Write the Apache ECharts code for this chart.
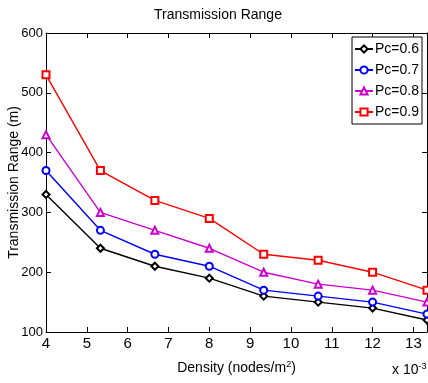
<!DOCTYPE html>
<html>
<head>
<meta charset="utf-8">
<script src="https://cdn.jsdelivr.net/npm/echarts@6/dist/echarts.min.js"></script>
<style>
  html, body { margin: 0; padding: 0; background: #fff; }
  #chart { width: 428px; height: 383px; }
</style>
</head>
<body>
<div id="chart"></div>
<script>
// density values (x 10^-3 nodes/m^2)
const density = [4, 5.333, 6.667, 8, 9.333, 10.667, 12, 13.333]
const pc06 = [330, 240, 210, 190, 160, 150, 140, 120]
const pc07 = [370, 270, 230, 210, 170, 160, 150, 130]
const pc08 = [430, 300, 270, 240, 200, 180, 170, 150]
const pc09 = [530, 370, 320, 290, 230, 220, 200, 170]
const seriesNames = ["Pc=0.6", "Pc=0.7", "Pc=0.8", "Pc=0.9"]

const font = "'Liberation Sans', Arial, sans-serif"
const chart = echarts.init(document.getElementById("chart"), null, { renderer: "canvas" })

const pairs = (ys) => density.map((x, i) => [x, ys[i]])

const makeSeries = (name, ys, color, symbol) => ({
  name,
  type: "line",
  data: pairs(ys),
  symbol,
  symbolSize: 7,
  showAllSymbol: true,
  lineStyle: { color, width: 1.4 },
  itemStyle: { color, borderColor: color, borderWidth: 1.1 },
  animation: false,
})

const innerTick = { show: true, inside: true, length: 5, lineStyle: { color: "#000", width: 1 } }

const option = {
  animation: false,
  textStyle: { fontFamily: font },
  title: {
    text: "Transmission Range",
    left: 213,
    top: 3,
    textAlign: "center",
    textStyle: { fontFamily: font, fontSize: 14, fontWeight: "normal", color: "#000" },
  },
  grid: { left: 46, right: 1, top: 33, bottom: 51, show: false, containLabel: false, outerBoundsMode: "none" },
  legend: {
    orient: "vertical",
    right: 6,
    top: 37,
    backgroundColor: "#fff",
    borderColor: "#000",
    borderWidth: 1,
    padding: [5, 3, 5, 2],
    itemGap: 7,
    itemWidth: 18,
    itemHeight: 9,
    textStyle: { fontFamily: font, fontSize: 14, color: "#000", padding: [0, 0, 0, -3] },
    data: seriesNames,
  },
  xAxis: [
    {
      type: "value",
      min: 4,
      max: 13.333,
      interval: 1,
      name: "Density (nodes/m{sup|2})",
      nameLocation: "middle",
      nameGap: 28,
      nameMoveOverlap: false,
      nameTextStyle: {
        fontFamily: font, fontSize: 14, color: "#000",
        rich: { sup: { fontFamily: font, fontSize: 9, verticalAlign: "top", padding: [0, 0, 8, 0], color: "#000" } },
      },
      axisLine: { show: true, onZero: false, lineStyle: { color: "#000", width: 1 } },
      axisTick: innerTick,
      splitLine: { show: false },
      axisLabel: { fontFamily: font, fontSize: 15, color: "#000", margin: 4, showMaxLabel: false },
    },
    {
      type: "value",
      position: "top",
      min: 4,
      max: 13.333,
      interval: 1,
      axisLine: { show: true, onZero: false, lineStyle: { color: "#000", width: 1 } },
      axisTick: innerTick,
      splitLine: { show: false },
      axisLabel: { show: false },
    },
  ],
  yAxis: [
    {
      type: "value",
      min: 100,
      max: 600,
      interval: 100,
      name: "Transmission Range (m)",
      nameLocation: "middle",
      nameGap: 25,
      nameMoveOverlap: false,
      nameTextStyle: { fontFamily: font, fontSize: 14, color: "#000" },
      axisLine: { show: true, onZero: false, lineStyle: { color: "#000", width: 1 } },
      axisTick: innerTick,
      splitLine: { show: false },
      axisLabel: { fontFamily: font, fontSize: 13, color: "#000", margin: 3 },
    },
    {
      type: "value",
      position: "right",
      min: 100,
      max: 600,
      interval: 100,
      axisLine: { show: true, onZero: false, lineStyle: { color: "#000", width: 1 } },
      axisTick: innerTick,
      splitLine: { show: false },
      axisLabel: { show: false },
    },
  ],
  graphic: [
    {
      type: "text",
      left: 392,
      top: 362,
      style: {
        text: "x 10{sup|-3}",
        fontFamily: font,
        fontSize: 14,
        fill: "#000",
        rich: { sup: { fontFamily: font, fontSize: 9, verticalAlign: "top", padding: [0, 0, 8, 0], fill: "#000" } },
      },
    },
  ],
  series: [
    makeSeries(seriesNames[0], pc06, "#000000", "emptyDiamond"),
    makeSeries(seriesNames[1], pc07, "#0000ff", "emptyCircle"),
    makeSeries(seriesNames[2], pc08, "#cc00cc", "emptyTriangle"),
    makeSeries(seriesNames[3], pc09, "#ff0000", "emptyRect"),
  ],
}

chart.setOption(option)
</script>
</body>
</html>
